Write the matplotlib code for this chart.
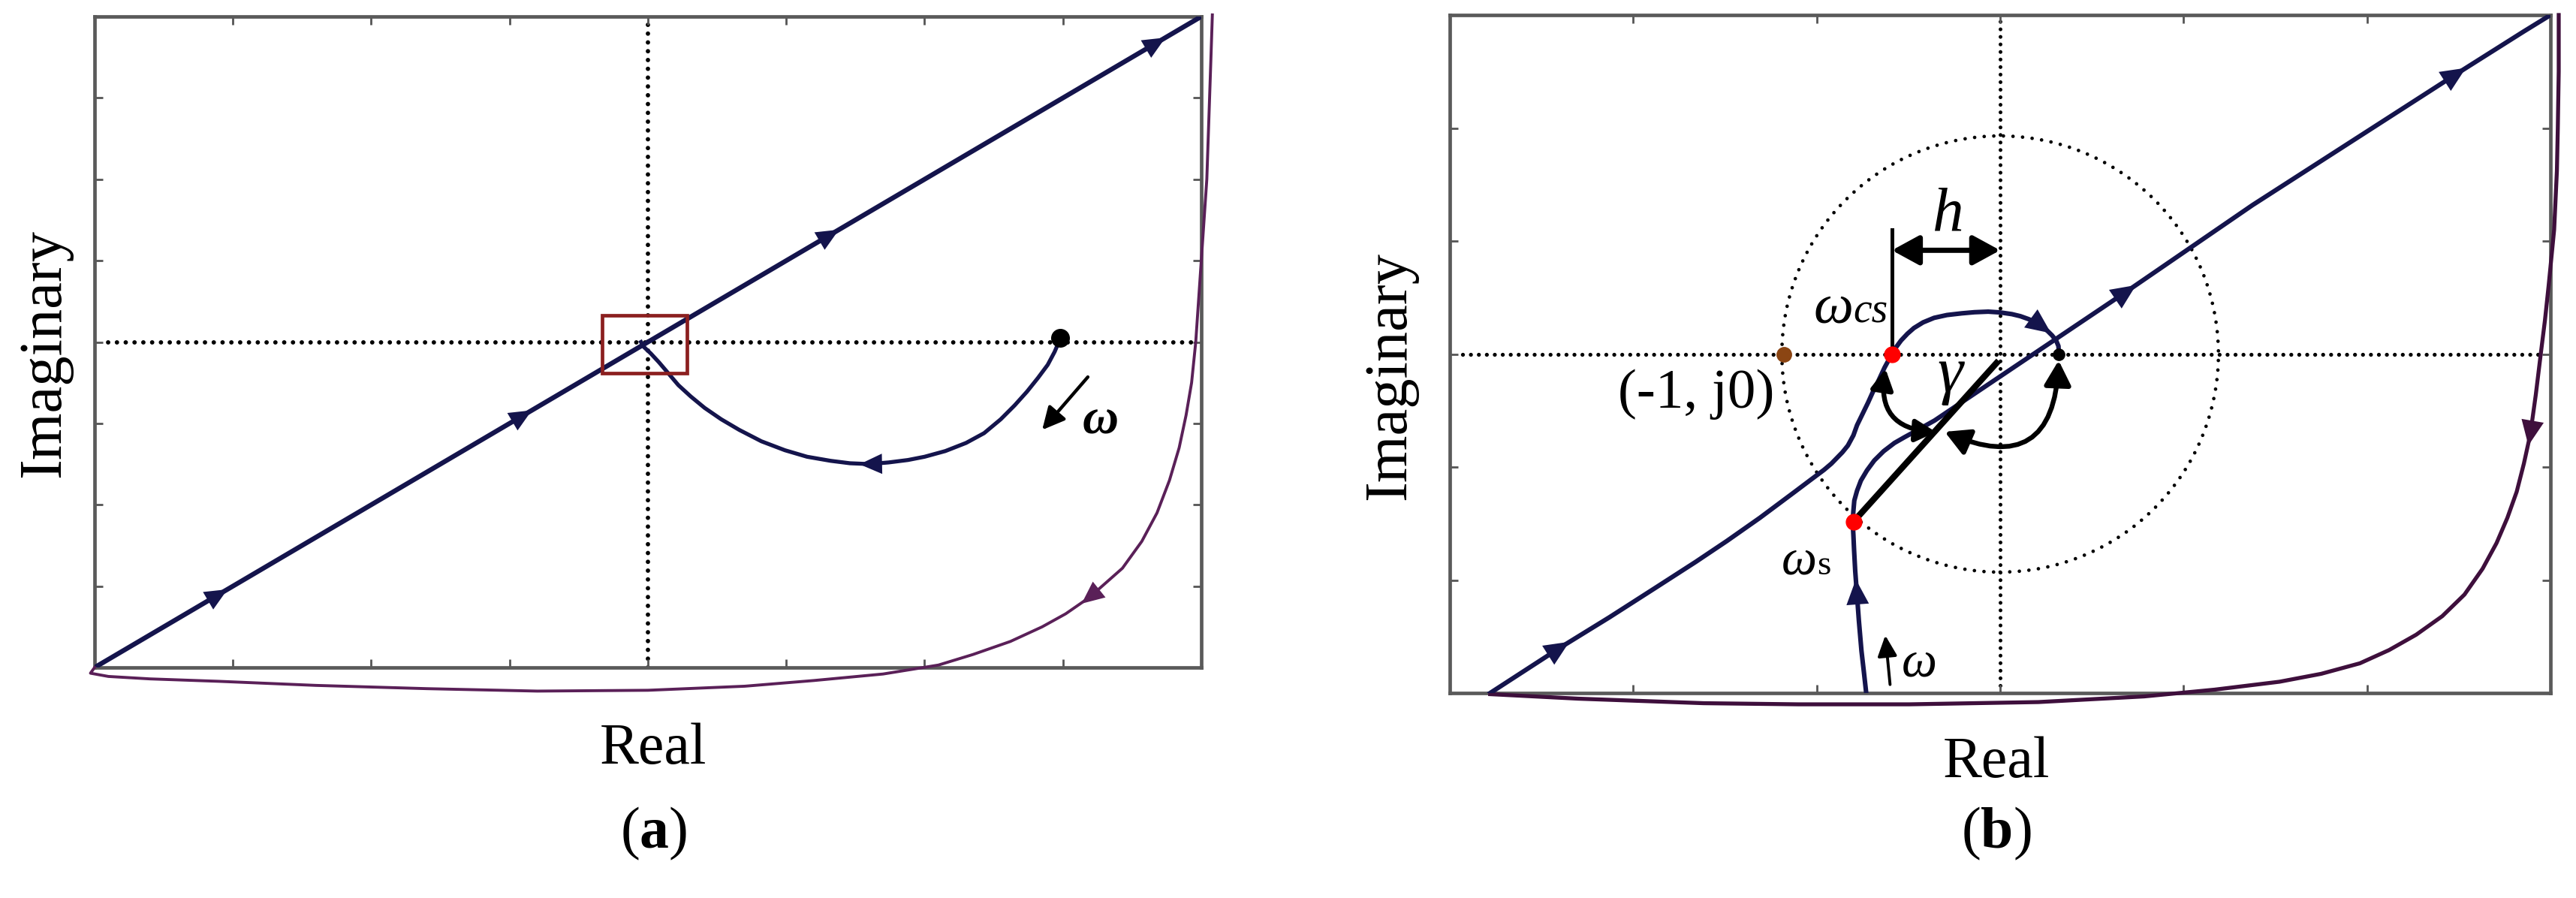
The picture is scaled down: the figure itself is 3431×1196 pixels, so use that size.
import matplotlib
matplotlib.use("Agg")
import matplotlib.pyplot as plt
import numpy as np
from matplotlib.patches import Ellipse, Rectangle, FancyArrowPatch

plt.rcParams["font.family"] = ["Liberation Serif", "DejaVu Serif"]
plt.rcParams["mathtext.fontset"] = "custom"
plt.rcParams["mathtext.rm"] = "Liberation Serif"
plt.rcParams["mathtext.bf"] = "Liberation Serif:bold"

NAVY = "#14144c"
PURPLE_A = "#5a2058"
PURPLE_B = "#3e0f3c"
BOX = "#5a5a5a"

# ---- panel (a): Nyquist plot, values in grid units (centre = origin)
A_DIAG_X = [-4.0, -3.1, -0.9, 1.32, 3.68, 4.0]
A_DIAG_Y = [-4.0, -3.1, -0.9, 1.32, 3.68, 4.0]
A_DIAG_ARROWS = [1, 2, 3, 4]

A_LOOP_X = [2.97, 2.94, 2.89, 2.82, 2.74, 2.65, 2.55, 2.43, 2.30, 2.15, 2.00, 1.88, 1.74, 1.60, 1.46, 1.32,
            1.15, 0.99, 0.82, 0.66, 0.53, 0.41, 0.31, 0.22, 0.15, 0.08, 0.02, -0.03, -0.05]
A_LOOP_Y = [0.0, -0.12, -0.28, -0.44, -0.61, -0.78, -0.95, -1.12, -1.24, -1.34, -1.41, -1.45, -1.48, -1.50,
            -1.49, -1.46, -1.41, -1.33, -1.22, -1.08, -0.95, -0.81, -0.67, -0.53, -0.39, -0.25, -0.14, -0.06, 0.0]
A_LOOP_ARROWS = [13]

A_TAIL_X = [4.08, 4.07, 4.06, 4.05, 4.04, 4.02, 4.0, 3.98, 3.96, 3.93, 3.89, 3.84, 3.77, 3.68, 3.57, 3.43,
            3.19, 3.02, 2.85, 2.62, 2.35, 2.1, 1.7, 1.2, 0.7, 0.0, -0.8, -1.6, -2.4, -3.1, -3.6, -3.9, -4.03, -4.0]
A_TAIL_Y = [4.02, 3.5, 3.0, 2.5, 2.0, 1.5, 1.0, 0.5, 0.0, -0.5, -0.9, -1.3, -1.7, -2.1, -2.45, -2.78,
            -3.14, -3.34, -3.5, -3.68, -3.84, -3.97, -4.08, -4.16, -4.23, -4.28, -4.29, -4.26, -4.22, -4.17,
            -4.14, -4.11, -4.07, -4.0]
A_TAIL_ARROWS = [16, 25]

A_START = (2.98, 0.05)
A_BOX = (-0.33, -0.38, 0.61, 0.71)

# ---- panel (b)
B_MAIN_X = [-2.78, -2.40, -2.13, -1.88, -1.66, -1.49, -1.31, -1.12, -1.03, -0.96, -0.92, -0.89, -0.86, -0.83,
            -0.80, -0.78, -0.75, -0.72, -0.695, -0.67, -0.65, -0.63, -0.61, -0.59, -0.565, -0.54, -0.505, -0.47,
            -0.42, -0.36, -0.29, -0.21, -0.14, -0.065, 0.0, 0.064, 0.11, 0.155, 0.195, 0.228, 0.258, 0.283,
            0.305, 0.318, 0.32]
B_MAIN_Y = [-3.0, -2.60, -2.33, -2.07, -1.84, -1.655, -1.45, -1.22, -1.11, -1.025, -0.97, -0.92, -0.87, -0.81,
            -0.72, -0.63, -0.53, -0.43, -0.34, -0.26, -0.19, -0.12, -0.06, 0.0, 0.065, 0.12, 0.18, 0.23,
            0.28, 0.32, 0.345, 0.36, 0.37, 0.375, 0.368, 0.353, 0.335, 0.309, 0.28, 0.243, 0.205, 0.165,
            0.12, 0.07, 0.0]
B_MAIN_ARROWS = [1, 39]

B_BRANCH_X = [-0.73, -0.743, -0.756, -0.77, -0.782, -0.79, -0.796, -0.80, -0.804, -0.80, -0.795, -0.78, -0.759,
              -0.726, -0.686, -0.635, -0.576, -0.52, -0.467, -0.357, 0.69, 1.375, 2.487, 2.85, 3.0]
B_BRANCH_Y = [-3.0, -2.81, -2.626, -2.36, -2.094, -1.92, -1.74, -1.6, -1.485, -1.39, -1.297, -1.21, -1.12,
              -1.03, -0.942, -0.86, -0.787, -0.735, -0.688, -0.588, 0.554, 1.317, 2.478, 2.85, 3.0]
B_BRANCH_ARROWS = [4, 20, 22]

B_TAIL_X = [3.045, 3.045, 3.04, 3.035, 3.02, 2.99, 2.97, 2.947, 2.92, 2.89, 2.855, 2.816, 2.765, 2.706, 2.63,
            2.531, 2.41, 2.268, 2.12, 1.961, 1.75, 1.523, 1.17, 0.785, 0.209, -0.495, -1.10, -1.617, -2.3, -2.78]
B_TAIL_Y = [3.0, 2.5, 2.0, 1.62, 1.1, 0.605, 0.3, 0.0, -0.36, -0.711, -0.97, -1.218, -1.45, -1.673, -1.9,
            -2.129, -2.32, -2.484, -2.62, -2.737, -2.83, -2.90, -2.97, -3.03, -3.08, -3.10, -3.10, -3.09,
            -3.05, -3.01]
B_TAIL_ARROWS = [9, 25]

B_CRIT = (-1.18, 0.0)        # (-1, j0)
B_WCS = (-0.59, 0.0)
B_WS = (-0.80, -1.485)
B_END = (0.32, 0.0)
B_RADIUS = (1.19, 1.93)
B_H_Y = 0.918
B_WCS_TOP = 1.1
B_GAMMA_END = (-0.02, -0.08)


def heads(ax, xs, ys, idx, color, size, ms):
    inv = ax.transData.inverted()
    for i in idx:
        p0 = ax.transData.transform((xs[i - 1], ys[i - 1]))
        p1 = ax.transData.transform((xs[i + 1], ys[i + 1]))
        d = (p1 - p0) / np.hypot(*(p1 - p0))
        tip = ax.transData.transform((xs[i], ys[i])) + d * size * 0.5
        tail = tip - d * size
        ax.annotate("", xy=inv.transform(tip), xytext=inv.transform(tail),
                    arrowprops=dict(arrowstyle="-|>,head_length=0.6,head_width=0.27",
                                    mutation_scale=ms, color=color, lw=0,
                                    shrinkA=0, shrinkB=0), zorder=6)


def frame(ax, lim):
    ax.set_xlim(-lim, lim)
    ax.set_ylim(-lim, lim)
    ax.set_xticks(np.arange(-lim + 1, lim))
    ax.set_yticks(np.arange(-lim + 1, lim))
    ax.tick_params(direction="in", length=8, width=2, color="#555555",
                   top=True, right=True, labelbottom=False, labelleft=False)
    for s in ax.spines.values():
        s.set_color(BOX)
        s.set_linewidth(3.4)


dot = dict(color="black", lw=4.2, ls=(0, (0.01, 2.0)), dash_capstyle="round", zorder=1)

fig = plt.figure(figsize=(34.31, 11.96), dpi=100)

# ---------------- (a)
ax = fig.add_axes([126 / 3431, 1 - 889 / 1196, 1474 / 3431, 867 / 1196])
frame(ax, 4)
ax.plot([-3.9, 3.95], [0, 0], **dot)
ax.plot([0, 0], [-4, 4], **dot)
ax.plot(A_DIAG_X, A_DIAG_Y, color=NAVY, lw=4.6, zorder=3, solid_capstyle="round")
ax.plot(A_LOOP_X, A_LOOP_Y, color=NAVY, lw=3.8, zorder=3)
ax.plot(A_TAIL_X, A_TAIL_Y, color=PURPLE_A, lw=2.8, zorder=3, clip_on=False)
ax.add_patch(Rectangle(A_BOX[:2], A_BOX[2], A_BOX[3], fill=False, ec="#8b1f1f", lw=3.4, zorder=4))
ax.plot(*A_START, "o", color="black", ms=17, zorder=5)
heads(ax, A_DIAG_X, A_DIAG_Y, A_DIAG_ARROWS, NAVY, 26, 36)
heads(ax, A_LOOP_X, A_LOOP_Y, A_LOOP_ARROWS, NAVY, 26, 36)
heads(ax, A_TAIL_X, A_TAIL_Y, A_TAIL_ARROWS, PURPLE_A, 26, 36)
ax.annotate("", xy=(2.85, -1.08), xytext=(3.18, -0.43),
            arrowprops=dict(arrowstyle="-|>,head_length=0.6,head_width=0.3", mutation_scale=30,
                            color="black", lw=3.2, shrinkA=0, shrinkB=0))
ax.text(3.27, -0.97, "ω", fontsize=48, fontweight="bold", fontstyle="italic", ha="center", va="center")

# ---------------- (b)
bx = fig.add_axes([1931 / 3431, 1 - 923 / 1196, 1466 / 3431, 903 / 1196])
frame(bx, 3)
bx.plot([-2.93, 2.97], [0, 0], **dict(dot, lw=3.8))
bx.plot([0, 0], [-3, 3], **dict(dot, lw=3.6))
bx.add_patch(Ellipse((0, 0), 2 * B_RADIUS[0], 2 * B_RADIUS[1], fill=False, ec="black", lw=3.4,
                     ls=(0, (0.01, 2.7)), capstyle="round", zorder=1))
bx.plot(B_TAIL_X, B_TAIL_Y, color=PURPLE_B, lw=3.8, zorder=3, clip_on=False)
bx.plot(B_MAIN_X, B_MAIN_Y, color=NAVY, lw=4.4, zorder=3)
bx.plot(B_BRANCH_X, B_BRANCH_Y, color=NAVY, lw=4.4, zorder=3)
heads(bx, B_MAIN_X, B_MAIN_Y, B_MAIN_ARROWS, NAVY, 30, 40)
heads(bx, B_BRANCH_X, B_BRANCH_Y, B_BRANCH_ARROWS, NAVY, 30, 40)
heads(bx, B_TAIL_X, B_TAIL_Y, B_TAIL_ARROWS, PURPLE_B, 30, 40)

bx.plot([B_WCS[0], B_WCS[0]], [B_WCS[1], B_WCS_TOP], color="black", lw=3.6, zorder=4)
bx.plot([B_WS[0], B_GAMMA_END[0]], [B_WS[1], B_GAMMA_END[1]], color="black", lw=6, zorder=4)
big = "<|-|>,head_length=0.55,head_width=0.3"
bx.annotate("", xy=(0.0, B_H_Y), xytext=(B_WCS[0], B_H_Y),
            arrowprops=dict(arrowstyle=big, mutation_scale=40, color="black", lw=5, shrinkA=0, shrinkB=0))
bx.add_patch(FancyArrowPatch((-0.625, -0.13), (-0.35, -0.69), connectionstyle="arc3,rad=0.55",
                             arrowstyle=big, mutation_scale=30, color="black", lw=4.6, zorder=6,
                             shrinkA=0, shrinkB=0))
bx.add_patch(FancyArrowPatch((0.319, -0.057), (-0.302, -0.688), connectionstyle="arc3,rad=-0.73",
                             arrowstyle=big, mutation_scale=36, color="black", lw=4.6, zorder=6,
                             shrinkA=0, shrinkB=0))
bx.annotate("", xy=(-0.626, -2.49), xytext=(-0.600, -2.925),
            arrowprops=dict(arrowstyle="-|>,head_length=0.6,head_width=0.28", mutation_scale=28,
                            color="black", lw=2.8, shrinkA=0, shrinkB=0))

bx.plot(*B_CRIT, "o", color="#8b4513", ms=14, zorder=7)
bx.plot(*B_WCS, "o", color="#ff0000", ms=15, zorder=7)
bx.plot(*B_WS, "o", color="#ff0000", ms=15, zorder=7)
bx.plot(*B_END, "o", color="black", ms=11, zorder=7)

bx.text(-0.284, 1.23, "h", fontsize=60, fontstyle="italic", ha="center", va="center")
bx.text(-0.80, 0.276, "ω", fontsize=54, fontstyle="italic", ha="right", va="baseline")
bx.text(-0.80, 0.276, "cs", fontsize=40, fontstyle="italic", ha="left", va="baseline")
bx.text(-0.274, -0.19, "γ", fontsize=62, fontstyle="italic", ha="center", va="center")
bx.text(-1.0, -1.95, "ω", fontsize=48, fontstyle="italic", ha="right", va="baseline")
bx.text(-1.0, -1.95, "s", fontsize=34, ha="left", va="baseline")
bx.text(-1.23, -0.36, "(-1, j0)", fontsize=54, ha="right", va="center")
bx.text(-0.44, -2.74, "ω", fontsize=48, fontstyle="italic", ha="center", va="center")

# ---------------- labels
fig.text(60 / 3431, 1 - 470 / 1196, "Imaginary", fontsize=58, rotation=90, ha="center", va="center")
fig.text(1852 / 3431, 1 - 500 / 1196, "Imaginary", fontsize=58, rotation=90, ha="center", va="center")
fig.text(870 / 3431, 1 - 998 / 1196, "Real", fontsize=56, ha="center", va="center")
fig.text(2659 / 3431, 1 - 1016 / 1196, "Real", fontsize=56, ha="center", va="center")
fig.text(871 / 3431, 1 - 1110 / 1196, r"($\mathbf{a}$)", fontsize=56, ha="center", va="center")
fig.text(2659 / 3431, 1 - 1110 / 1196, r"($\mathbf{b}$)", fontsize=56, ha="center", va="center")

fig.savefig("out.png", dpi=100)
